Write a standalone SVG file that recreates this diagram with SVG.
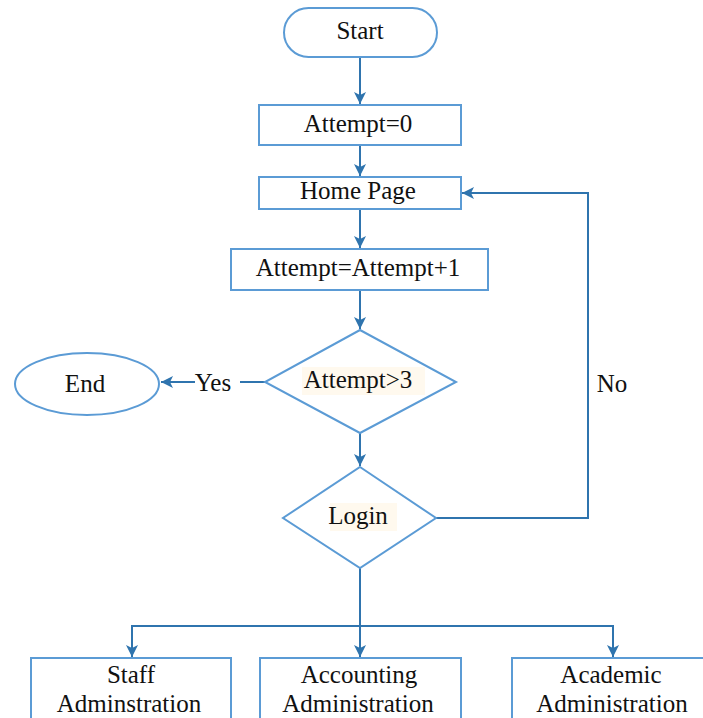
<svg xmlns="http://www.w3.org/2000/svg" width="703" height="718" viewBox="0 0 703 718">
<style>
.shape{fill:#ffffff;stroke:#5B9BD5;stroke-width:2}
.conn{fill:none;stroke:#2F74AE;stroke-width:2}
.t{font-family:'Liberation Serif','Times New Roman',serif;font-size:25px;fill:#111111;text-anchor:middle}
.hl{fill:#FFF9EE;stroke:none}
</style>
<defs>
<marker id="arr" viewBox="0 0 10 10" refX="10" refY="5" markerWidth="6" markerHeight="6" orient="auto" markerUnits="strokeWidth">
<path d="M0,0 L10,5 L0,10 L2.5,5 z" fill="#2F74AE"/>
</marker>
</defs>
<g id="connectors">
<line class="conn" x1="360" y1="57" x2="360" y2="104" marker-end="url(#arr)"/>
<line class="conn" x1="360" y1="145" x2="360" y2="176" marker-end="url(#arr)"/>
<line class="conn" x1="360" y1="209" x2="360" y2="248" marker-end="url(#arr)"/>
<line class="conn" x1="360" y1="290" x2="360" y2="329" marker-end="url(#arr)"/>
<line class="conn" x1="360" y1="433" x2="360" y2="466" marker-end="url(#arr)"/>
<line class="conn" x1="265" y1="382" x2="240" y2="382"/>
<line class="conn" x1="195" y1="382" x2="161" y2="382" marker-end="url(#arr)"/>
<polyline class="conn" points="436,518 588,518 588,193 462,193" marker-end="url(#arr)"/>
<line class="conn" x1="360" y1="568" x2="360" y2="657" marker-end="url(#arr)"/>
<polyline class="conn" points="132,626 613,626 613,657" marker-end="url(#arr)"/>
<line class="conn" x1="132" y1="625" x2="132" y2="657" marker-end="url(#arr)"/>
<text class="t" x="213" y="391">Yes</text>
<text class="t" x="612" y="392">No</text>
</g>
<g id="start">
<rect class="shape" x="284" y="8" width="153" height="49" rx="24.5"/>
<text class="t" x="360" y="39">Start</text>
</g>
<g id="attempt0">
<rect class="shape" x="259" y="105" width="202" height="40"/>
<text class="t" x="358" y="132">Attempt=0</text>
</g>
<g id="homepage">
<rect class="shape" x="259" y="177" width="202" height="32"/>
<text class="t" x="358" y="199">Home Page</text>
</g>
<g id="increment">
<rect class="shape" x="231" y="249" width="257" height="41"/>
<text class="t" x="358" y="276">Attempt=Attempt+1</text>
</g>
<g id="check">
<polygon class="shape" points="360,330 456,382 360,433 265,382"/>
<rect class="hl" x="302" y="367" width="123" height="28"/>
<text class="t" x="358" y="388">Attempt&gt;3</text>
</g>
<g id="end">
<ellipse class="shape" cx="87" cy="384" rx="72" ry="31"/>
<text class="t" x="85" y="392">End</text>
</g>
<g id="login">
<polygon class="shape" points="360,467 436,518 360,568 283,518"/>
<rect class="hl" x="330" y="503" width="67" height="28"/>
<text class="t" x="358" y="524">Login</text>
</g>
<g id="staff">
<rect class="shape" x="31" y="658" width="200" height="70"/>
<text class="t" x="131" y="683">Staff</text>
<text class="t" x="129" y="712">Adminstration</text>
</g>
<g id="accounting">
<rect class="shape" x="260" y="658" width="201" height="70"/>
<text class="t" x="359" y="683">Accounting</text>
<text class="t" x="358" y="712">Administration</text>
</g>
<g id="academic">
<rect class="shape" x="512" y="658" width="201" height="70"/>
<text class="t" x="611" y="683">Academic</text>
<text class="t" x="612" y="712">Administration</text>
</g>
</svg>
